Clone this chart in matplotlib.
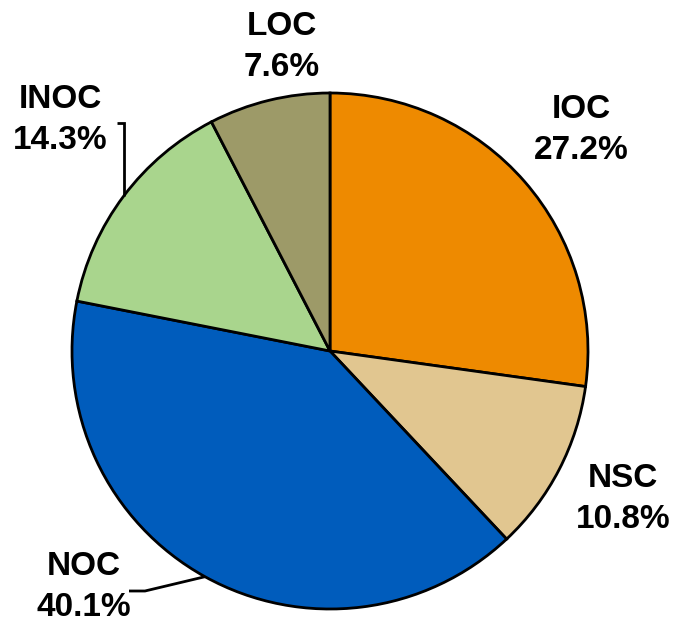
import numpy as np
import matplotlib
matplotlib.use("Agg")
import matplotlib.pyplot as plt

labels = ["IOC", "NSC", "NOC", "INOC", "LOC"]
values = [27.2, 10.8, 40.1, 14.3, 7.6]
colors = ["#EE8A00", "#E1C690", "#005CBC", "#A9D58D", "#9D9A68"]

W, H = 675, 628
fig = plt.figure(figsize=(W / 100, H / 100), dpi=100)
ax = fig.add_axes([0, 0, 1, 1])

cx, cy, R = 330, H - 351, 258
wedges, _ = ax.pie(values, colors=colors, startangle=90, counterclock=False,
                   center=(cx, cy), radius=R, frame=True,
                   wedgeprops=dict(edgecolor="black", linewidth=2.0))
ax.set_xlim(0, W)
ax.set_ylim(0, H)
ax.set_aspect("equal")
ax.axis("off")

# label positions (pixel coords, y from top)
label_pos = {"IOC": (581, 130), "NSC": (623, 499), "NOC": (84, 587),
             "INOC": (60, 120), "LOC": (282, 47)}

font = dict(family=["Liberation Sans", "DejaVu Sans"], fontsize=24,
            fontweight="bold", ha="center", va="center", linespacing=1.38)
for lab, val in zip(labels, values):
    x, y = label_pos[lab]
    ax.text(x, H - y, f"{lab}\n{val:.1f}%", **font)

def edge_point(w):
    th = np.deg2rad((w.theta1 + w.theta2) / 2)
    return cx + R * np.cos(th), cy + R * np.sin(th)

# leader lines
ex, ey = edge_point(wedges[labels.index("INOC")])
ax.plot([117, ex, ex], [H - 123, H - 123, ey], color="black", lw=2.0,
        solid_capstyle="butt", solid_joinstyle="miter")
ex, ey = edge_point(wedges[labels.index("NOC")])
ax.plot([129, 145, ex], [H - 591, H - 591, ey], color="black", lw=2.0,
        solid_capstyle="butt")

fig.savefig("out.png", dpi=100, facecolor="white")
